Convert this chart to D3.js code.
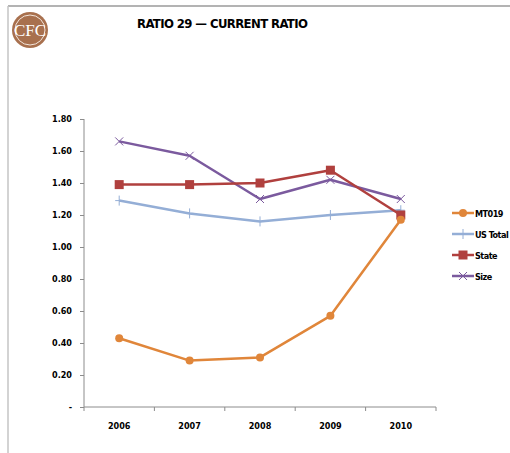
<!DOCTYPE html>
<html>
<head>
<meta charset="utf-8">
<script src="https://cdn.jsdelivr.net/npm/d3@7"></script>
<style>
  body { margin: 0; background: #fff; }
  svg { display: block; }
</style>
</head>
<body>
<svg width="510" height="453"></svg>
<script>
var years = ["2006", "2007", "2008", "2009", "2010"];
var seriesNames = ["MT019", "US Total", "State", "Size"];
var mt019 = [0.43, 0.29, 0.31, 0.57, 1.17];
var usTotal = [1.29, 1.21, 1.16, 1.20, 1.23];
var state = [1.39, 1.39, 1.40, 1.48, 1.20];
var size = [1.66, 1.57, 1.30, 1.42, 1.30];
var yTicks = [0, 0.2, 0.4, 0.6, 0.8, 1.0, 1.2, 1.4, 1.6, 1.8];

var colors = ["#E0863A", "#94AED6", "#B0403E", "#7B5A9E"];
var symbols = ["circle", "plus", "square", "x"];
var series = [mt019, usTotal, state, size].map((vals, i) => ({
    name: seriesNames[i], vals, color: colors[i], symbol: symbols[i]
}));

var svg = d3.select('svg');
var font = "'DejaVu Sans Condensed', 'DejaVu Sans', sans-serif";

// frame
svg.append('line').attr('x1', 8).attr('x2', 510).attr('y1', 6).attr('y2', 6)
    .attr('stroke', '#9a9a9a').attr('stroke-width', 1.5);
svg.append('line').attr('x1', 8).attr('x2', 8).attr('y1', 6).attr('y2', 453)
    .attr('stroke', '#c4c4c4').attr('stroke-width', 1.5);

// logo
var logo = svg.append('g').attr('transform', 'translate(30,30)');
logo.append('circle').attr('r', 18).attr('fill', '#A8704E');
logo.append('circle').attr('r', 15).attr('fill', 'none').attr('stroke', '#f3e6dc').attr('stroke-width', 1);
logo.append('text').attr('text-anchor', 'middle').attr('y', 6)
    .attr('font-family', "'Liberation Serif', serif").attr('font-size', 17)
    .attr('fill', '#fff').text('CFC');

svg.append('text').attr('x', 137).attr('y', 28)
    .attr('font-family', font).attr('font-weight', 'bold').attr('font-size', 13)
    .attr('letter-spacing', -0.6)
    .text('RATIO 29 — CURRENT RATIO');

var x = d3.scaleBand().domain(years).range([84, 436]);
var y = d3.scaleLinear().domain([0, 1.8]).range([407, 119]);

// y axis
var yAxis = svg.append('g').attr('transform', 'translate(84,0)')
    .call(d3.axisLeft(y).tickValues(yTicks).tickSize(4).tickPadding(8)
        .tickFormat(d => d === 0 ? '-' : d3.format('.2f')(d)));
yAxis.select('.domain').attr('stroke', '#8c8c8c').attr('d', 'M0,119V407');
yAxis.selectAll('line').attr('stroke', '#8c8c8c');
yAxis.selectAll('text').attr('font-family', font).attr('font-weight', 'bold')
    .attr('font-size', 9).attr('fill', '#000');

// x axis
var xAxis = svg.append('g').attr('transform', 'translate(0,407)')
    .call(d3.axisBottom(x).tickSize(0).tickPadding(16));
xAxis.select('.domain').attr('stroke', '#8c8c8c').attr('d', 'M84,0H436');
xAxis.selectAll('text').attr('font-family', font).attr('font-weight', 'bold')
    .attr('font-size', 9).attr('fill', '#000');
xAxis.selectAll('.sep').data(years.map((d, i) => i + 1)).enter().append('line')
    .attr('x1', d => 84 + d * x.step()).attr('x2', d => 84 + d * x.step())
    .attr('y1', 0).attr('y2', 4).attr('stroke', '#8c8c8c');
xAxis.append('line').attr('x1', 84).attr('x2', 84).attr('y1', 0).attr('y2', 4).attr('stroke', '#8c8c8c');

var cx = d => x(d) + x.bandwidth() / 2;
var line = d3.line().x((d, i) => cx(years[i])).y(d => y(d));

function drawMarker(g, s, px, py) {
    if (s.symbol === 'circle') {
        g.append('circle').attr('cx', px).attr('cy', py).attr('r', 4).attr('fill', s.color);
    } else if (s.symbol === 'square') {
        g.append('rect').attr('x', px - 4.5).attr('y', py - 4.5).attr('width', 9).attr('height', 9).attr('fill', s.color);
    } else if (s.symbol === 'plus') {
        g.append('path').attr('d', `M${px - 4},${py}H${px + 4}M${px},${py - 5}V${py + 5}`)
            .attr('stroke', s.color).attr('stroke-width', 1);
    } else {
        g.append('path').attr('d', `M${px - 4},${py - 4}L${px + 4},${py + 4}M${px - 4},${py + 4}L${px + 4},${py - 4}`)
            .attr('stroke', s.color).attr('stroke-width', 1);
    }
}

// draw Size first so State/MT019 sit on top like Excel ordering
[series[3], series[1], series[2], series[0]].forEach(s => {
    var g = svg.append('g');
    g.append('path').attr('d', line(s.vals)).attr('fill', 'none')
        .attr('stroke', s.color).attr('stroke-width', 2.5).attr('stroke-linejoin', 'round');
    s.vals.forEach((v, i) => drawMarker(g, s, cx(years[i]), y(v)));
});

// legend
var legend = svg.append('g');
series.forEach((s, i) => {
    var ly = 213 + i * 21;
    var g = legend.append('g');
    g.append('line').attr('x1', 452).attr('x2', 474).attr('y1', ly).attr('y2', ly)
        .attr('stroke', s.color).attr('stroke-width', 2.5);
    drawMarker(g, s, 463, ly);
    g.append('text').attr('x', 475).attr('y', ly + 3.5)
        .attr('font-family', font).attr('font-weight', 'bold').attr('font-size', 9)
        .attr('letter-spacing', -0.5).text(s.name);
});
</script>
</body>
</html>
